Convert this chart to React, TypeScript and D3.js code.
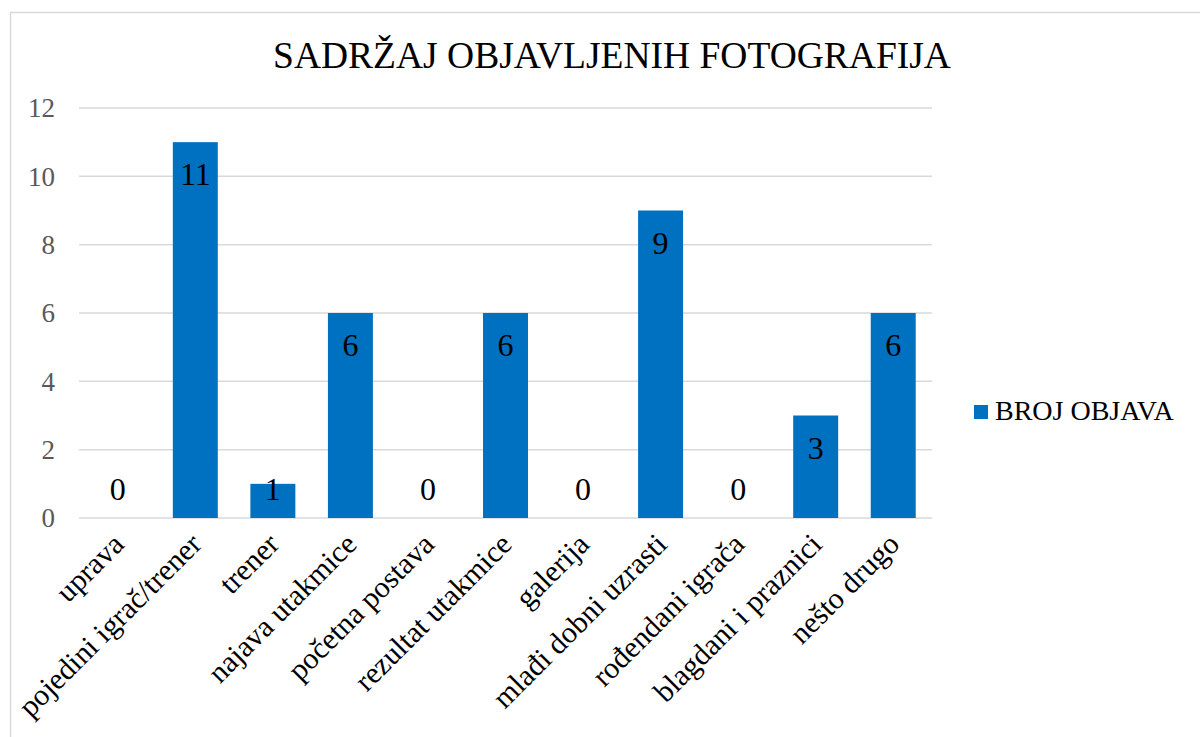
import * as d3 from "d3";
import React from "react";

const categories = [
  "uprava",
  "pojedini igrač/trener",
  "trener",
  "najava utakmice",
  "početna postava",
  "rezultat utakmice",
  "galerija",
  "mlađi dobni uzrasti",
  "rođendani igrača",
  "blagdani i praznici",
  "nešto drugo",
];
const values = [0, 11, 1, 6, 0, 6, 0, 9, 0, 3, 6];
const yTicks = [0, 2, 4, 6, 8, 10, 12];
const seriesName = "BROJ OBJAVA";
const title = "SADRŽAJ OBJAVLJENIH FOTOGRAFIJA";

const width = 1200;
const height = 737;
const font = "'Liberation Serif', 'Times New Roman', serif";
const blue = "#0070C0";

export default function App() {
  const svgRef = React.useRef<SVGSVGElement>(null);
  const plot = { left: 79, right: 932, top: 108, bottom: 518 };

  React.useEffect(() => {
    const svg = d3.select(svgRef.current);
    svg.selectAll("*").remove();

    // chart border
    svg
      .append("rect")
      .attr("x", 10.5)
      .attr("y", 12.5)
      .attr("width", 1200)
      .attr("height", 740)
      .attr("fill", "#fff")
      .attr("stroke", "#d9d9d9")
      .attr("stroke-width", 1.5);

    const x = d3
      .scaleBand()
      .domain(categories)
      .range([plot.left, plot.right])
      .paddingInner(0.42)
      .paddingOuter(0.21);

    const y = d3.scaleLinear().domain([0, 12]).range([plot.bottom, plot.top]);

    // gridlines
    svg
      .append("g")
      .selectAll("line")
      .data(yTicks)
      .enter()
      .append("line")
      .attr("x1", plot.left)
      .attr("x2", plot.right)
      .attr("y1", (d) => y(d))
      .attr("y2", (d) => y(d))
      .attr("stroke", "#d9d9d9")
      .attr("stroke-width", 1.5);

    // y tick labels
    svg
      .append("g")
      .selectAll("text")
      .data(yTicks)
      .enter()
      .append("text")
      .attr("x", 55)
      .attr("y", (d) => y(d))
      .attr("dy", "0.35em")
      .attr("text-anchor", "end")
      .attr("font-family", font)
      .attr("font-size", 27)
      .attr("fill", "#595959")
      .text((d) => d);

    // bars
    svg
      .append("g")
      .selectAll("rect")
      .data(values)
      .enter()
      .append("rect")
      .attr("x", (_, i) => x(categories[i]) ?? 0)
      .attr("y", (d) => y(d))
      .attr("width", x.bandwidth())
      .attr("height", (d) => y(0) - y(d))
      .attr("fill", blue);

    // data labels (inside end, pushed above the axis when the bar is too short)
    svg
      .append("g")
      .selectAll("text")
      .data(values)
      .enter()
      .append("text")
      .attr("x", (_, i) => (x(categories[i]) ?? 0) + x.bandwidth() / 2)
      .attr("y", (d) => Math.min(y(d) + 43, y(0) - 18))
      .attr("text-anchor", "middle")
      .attr("font-family", font)
      .attr("font-size", 32)
      .attr("fill", "#000")
      .text((d) => d);

    // x category labels, rotated
    svg
      .append("g")
      .selectAll("text")
      .data(categories)
      .enter()
      .append("text")
      .attr("transform", (d) => {
        const cx = (x(d) ?? 0) + x.bandwidth() / 2 + 8;
        return `translate(${cx},${plot.bottom + 28}) rotate(-45)`;
      })
      .attr("text-anchor", "end")
      .attr("font-family", font)
      .attr("font-size", 30)
      .attr("fill", "#000")
      .text((d) => d);

    // title
    svg
      .append("text")
      .attr("x", 612)
      .attr("y", 68)
      .attr("text-anchor", "middle")
      .attr("font-family", font)
      .attr("font-size", 37.5)
      .attr("fill", "#000")
      .text(title);

    // legend
    const legend = svg.append("g").attr("transform", "translate(974,405)");
    legend.append("rect").attr("width", 14).attr("height", 14).attr("fill", blue);
    legend
      .append("text")
      .attr("x", 21)
      .attr("y", 15)
      .attr("font-family", font)
      .attr("font-size", 28)
      .attr("fill", "#000")
      .text(seriesName);
  }, []);

  return (
    <svg
      ref={svgRef}
      width={width}
      height={height}
      viewBox={`0 0 ${width} ${height}`}
      style={{ position: "absolute", left: 0, top: 0, display: "block" }}
    ></svg>
  );
}
